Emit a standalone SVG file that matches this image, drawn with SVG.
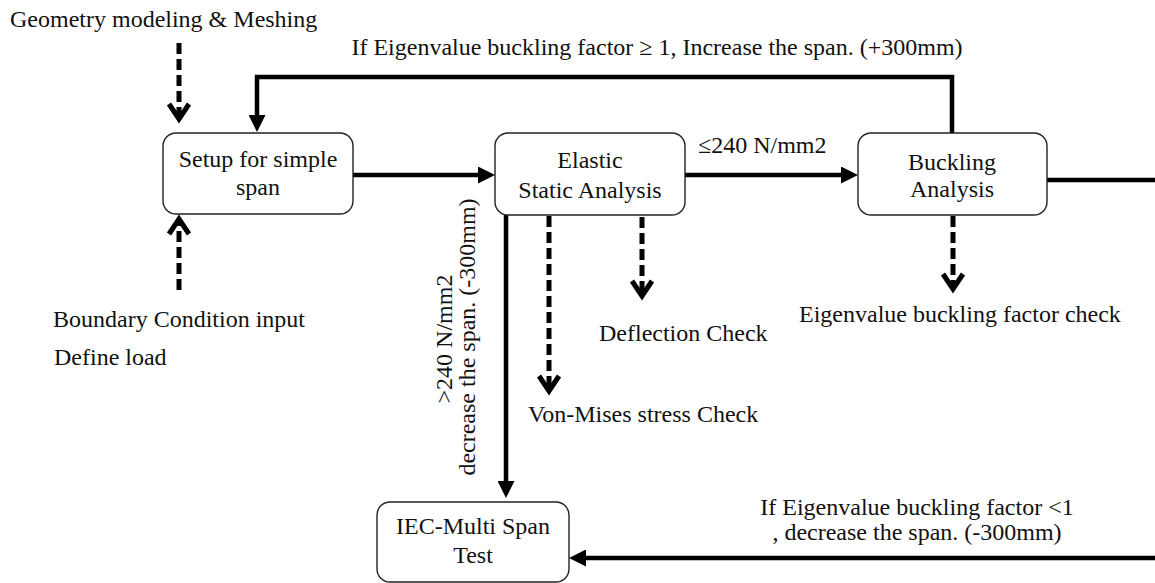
<svg xmlns="http://www.w3.org/2000/svg" width="1155" height="583" viewBox="0 0 1155 583">
<style>
  text { font-family: "Liberation Serif", "Times New Roman", serif; font-size: 24px; fill: #111; }
  .box { fill: #fff; stroke: #222; stroke-width: 1.4; }
  .solid { fill: none; stroke: #000; stroke-width: 4.5; }
  .dash { fill: none; stroke: #000; stroke-width: 5; stroke-dasharray: 11 5; }
  .mid { text-anchor: middle; }
</style>
<defs>
  <marker id="arr" markerUnits="userSpaceOnUse" viewBox="0 0 17 17" markerWidth="17" markerHeight="17" refX="10" refY="8.5" orient="auto">
    <path d="M0,0 L17,8.5 L0,17 z" fill="#000"/>
  </marker>
  <marker id="chev" markerUnits="userSpaceOnUse" viewBox="0 0 30 30" markerWidth="30" markerHeight="30" refX="18" refY="15" orient="auto">
    <path d="M5,5 L20,15 L5,25" fill="none" stroke="#000" stroke-width="5" stroke-linejoin="miter"/>
  </marker>
</defs>

<g id="connectors">
  <path class="solid" d="M353,175 H488" marker-end="url(#arr)"/>
  <path class="solid" d="M685,175 H851" marker-end="url(#arr)"/>
  <path class="solid" d="M952,133 V77 H257 V125" marker-end="url(#arr)"/>
  <path class="solid" d="M1047,180 H1160"/>
  <path class="solid" d="M506,215 V491" marker-end="url(#arr)"/>
  <path class="solid" d="M1160,558 H576" marker-end="url(#arr)"/>
  <path class="dash" d="M179,43 V117" marker-end="url(#chev)"/>
  <path class="dash" d="M179,290 V221" marker-end="url(#chev)"/>
  <path class="dash" d="M549,216 V389" marker-end="url(#chev)"/>
  <path class="dash" d="M642,217 V294" marker-end="url(#chev)"/>
  <path class="dash" d="M953,216 V287" marker-end="url(#chev)"/>
</g>

<g id="setup">
  <rect class="box" x="163" y="133" width="190" height="81" rx="13"/>
  <text class="mid" x="258" y="167">Setup for simple</text>
  <text class="mid" x="258" y="195">span</text>
</g>
<g id="elastic">
  <rect class="box" x="495" y="133" width="190" height="82" rx="13"/>
  <text class="mid" x="590" y="168">Elastic</text>
  <text class="mid" x="590" y="198">Static Analysis</text>
</g>
<g id="buckling">
  <rect class="box" x="858" y="133" width="189" height="82" rx="13"/>
  <text class="mid" x="952" y="170">Buckling</text>
  <text class="mid" x="952" y="197">Analysis</text>
</g>
<g id="iec">
  <rect class="box" x="377" y="502" width="192" height="80" rx="13"/>
  <text class="mid" x="473" y="534">IEC-Multi Span</text>
  <text class="mid" x="473" y="563">Test</text>
</g>

<g id="labels">
  <text x="10" y="27">Geometry modeling &amp; Meshing</text>
  <text class="mid" x="657" y="55">If Eigenvalue buckling factor ≥ 1, Increase the span. (+300mm)</text>
  <text x="698" y="153">≤240 N/mm2</text>
  <text x="53" y="327">Boundary Condition input</text>
  <text x="54" y="365">Define load</text>
  <text x="599" y="341">Deflection Check</text>
  <text x="799" y="322">Eigenvalue buckling factor check</text>
  <text x="528" y="422">Von-Mises stress Check</text>
  <text class="mid" transform="translate(452,339) rotate(-90)">&gt;240 N/mm2</text>
  <text class="mid" transform="translate(475,337) rotate(-90)">decrease the span. (-300mm)</text>
  <text class="mid" x="917" y="515">If Eigenvalue buckling factor &lt;1</text>
  <text class="mid" x="917" y="540">, decrease the span. (-300mm)</text>
</g>
</svg>
